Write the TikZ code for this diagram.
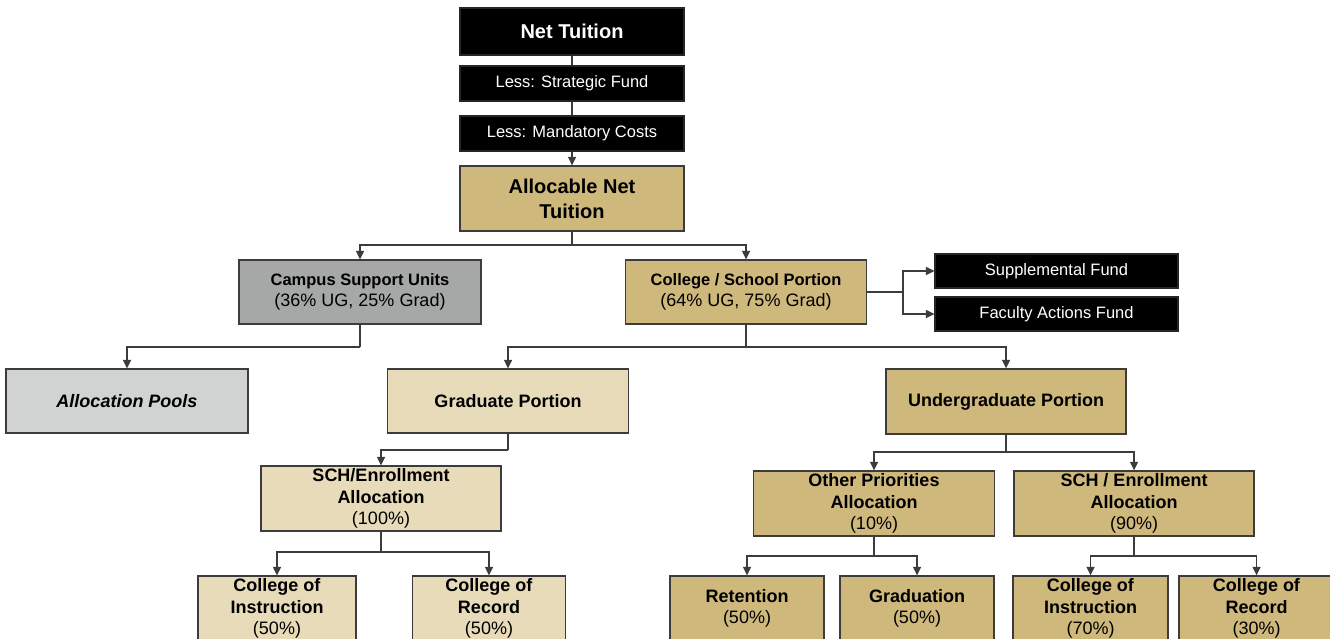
\documentclass[tikz,border=0pt]{standalone}
\usepackage{fontspec}
\setmainfont{Liberation Sans}
\usetikzlibrary{arrows.meta}
\newcommand{\fsz}[2]{\fontsize{#1}{#2}\selectfont}
\definecolor{gold}{HTML}{CFB87C}
\definecolor{lgold}{HTML}{E7DBBA}
\definecolor{dgray}{HTML}{A6A8A8}
\definecolor{lgray}{HTML}{D1D3D3}
\definecolor{edge}{HTML}{3C3C3C}
\tikzset{
  box/.style={draw=edge, line width=1.3pt, inner sep=0pt, align=center, text=black},
  blk/.style={box, fill=black, draw=black!85, text=white},
  gbox/.style={box, fill=gold},
  lbox/.style={box, fill=lgold},
  conn/.style={draw=edge, line width=1.4pt, -{Triangle[length=8.5pt,width=8pt]}},
  plain/.style={draw=edge, line width=1.4pt},
}
\begin{document}
\begin{tikzpicture}[x=1pt,y=-1pt]
\useasboundingbox (0,0) rectangle (1330,639);
\clip (0,0) rectangle (1330,639);
\fill[white] (0,0) rectangle (1330,639);

% top column
\node[blk, minimum width=224, minimum height=47, font=\fsz{20}{24}\bfseries] (nt) at (572,31.5) {Net Tuition};
\node[blk, minimum width=224, minimum height=35, font=\fsz{16.5}{20}] (lsf) at (572,83.5) {Less: Strategic Fund};
\node[blk, minimum width=224, minimum height=35, font=\fsz{16.5}{20}] (lmc) at (572,133.5) {Less: Mandatory Costs};
\node[gbox, minimum width=224, minimum height=65, font=\fsz{20}{25}\bfseries] (ant) at (572,198.5) {Allocable Net\\Tuition};

% second row
\node[box, fill=dgray, minimum width=242, minimum height=64, font=\fsz{18}{21}] (csu) at (360,292) {\textbf{\fsz{16.5}{21}Campus Support Units}\\(36\% UG, 25\% Grad)};
\node[gbox, minimum width=241, minimum height=64, font=\fsz{18}{21}] (csp) at (746,292) {\textbf{\fsz{16.5}{21}College / School Portion}\\(64\% UG, 75\% Grad)};
\node[blk, minimum width=243, minimum height=34, font=\fsz{16.5}{20}] (supp) at (1056.5,271) {Supplemental Fund};
\node[blk, minimum width=243, minimum height=34, font=\fsz{16.5}{20}] (fac) at (1056.5,314) {Faculty Actions Fund};

% third row
\node[box, fill=lgray, minimum width=242, minimum height=64, font=\fsz{18}{22}\bfseries\itshape] (ap) at (127,401) {Allocation Pools};
\node[lbox, minimum width=241, minimum height=64, font=\fsz{18}{22}\bfseries] (gp) at (508,401) {Graduate Portion};
\node[gbox, minimum width=240, minimum height=65, font=\fsz{18}{22}\bfseries] (ugp) at (1006,401.5) {Undergraduate Portion};

% fourth row
\node[lbox, minimum width=240, minimum height=65, font=\fsz{18}{21.5}] (sch1) at (381,498.5) {\textbf{SCH/Enrollment}\\\textbf{Allocation}\\(100\%)};
\node[gbox, minimum width=241, minimum height=65, font=\fsz{18}{21.5}] (opa) at (874,503.5) {\textbf{Other Priorities}\\\textbf{Allocation}\\(10\%)};
\node[gbox, minimum width=240, minimum height=65, font=\fsz{18}{21.5}] (sch2) at (1134,503.5) {\textbf{SCH / Enrollment}\\\textbf{Allocation}\\(90\%)};

% bottom row
\node[lbox, minimum width=158, minimum height=65, font=\fsz{18}{21.5}] (coi1) at (277,608.5) {\textbf{College of}\\\textbf{Instruction}\\(50\%)};
\node[lbox, minimum width=153, minimum height=65, font=\fsz{18}{21.5}] (cor1) at (489,608.5) {\textbf{College of}\\\textbf{Record}\\(50\%)};
\node[gbox, minimum width=154, minimum height=65, font=\fsz{18}{21.5}] (ret) at (747,608.5) {\textbf{Retention}\\(50\%)};
\node[gbox, minimum width=154, minimum height=65, font=\fsz{18}{21.5}] (grd) at (917,608.5) {\textbf{Graduation}\\(50\%)};
\node[gbox, minimum width=155, minimum height=65, font=\fsz{18}{21.5}] (coi2) at (1090.5,608.5) {\textbf{College of}\\\textbf{Instruction}\\(70\%)};
\node[gbox, minimum width=155, minimum height=65, font=\fsz{18}{21.5}] (cor2) at (1256.5,608.5) {\textbf{College of}\\\textbf{Record}\\(30\%)};

% connectors
\draw[plain] (nt.south) -- (lsf.north);
\draw[plain] (lsf.south) -- (lmc.north);
\draw[conn] (lmc.south) -- (ant.north);

\coordinate (s1) at (572,245);
\draw[plain] (ant.south) -- (s1);
\draw[conn] (s1) -| (csu.north);
\draw[conn] (s1) -| (csp.north);

\draw[plain] (csp.east) -- ++(36,0) coordinate (s2);
\draw[conn] (s2) |- (supp.west);
\draw[conn] (s2) |- (fac.west);

\coordinate (s3) at (360,347);
\draw[plain] (csu.south) -- (s3);
\draw[conn] (s3) -| (ap.north);

\coordinate (s4) at (746,347);
\draw[plain] (csp.south) -- (s4);
\draw[conn] (s4) -| (gp.north);
\draw[conn] (s4) -| (ugp.north);

\coordinate (s5) at (508,450);
\draw[plain] (gp.south) -- (s5);
\draw[conn] (s5) -| (sch1.north);

\coordinate (s6) at (1006,452);
\draw[plain] (ugp.south) -- (s6);
\draw[conn] (s6) -| (opa.north);
\draw[conn] (s6) -| (sch2.north);

\coordinate (s7) at (381,552);
\draw[plain] (sch1.south) -- (s7);
\draw[conn] (s7) -| (coi1.north);
\draw[conn] (s7) -| (cor1.north);

\coordinate (s8) at (874,556);
\draw[plain] (opa.south) -- (s8);
\draw[conn] (s8) -| (ret.north);
\draw[conn] (s8) -| (grd.north);

\coordinate (s9) at (1134,556);
\draw[plain] (sch2.south) -- (s9);
\draw[conn] (s9) -| (coi2.north);
\draw[conn] (s9) -| (cor2.north);
\end{tikzpicture}
\end{document}
